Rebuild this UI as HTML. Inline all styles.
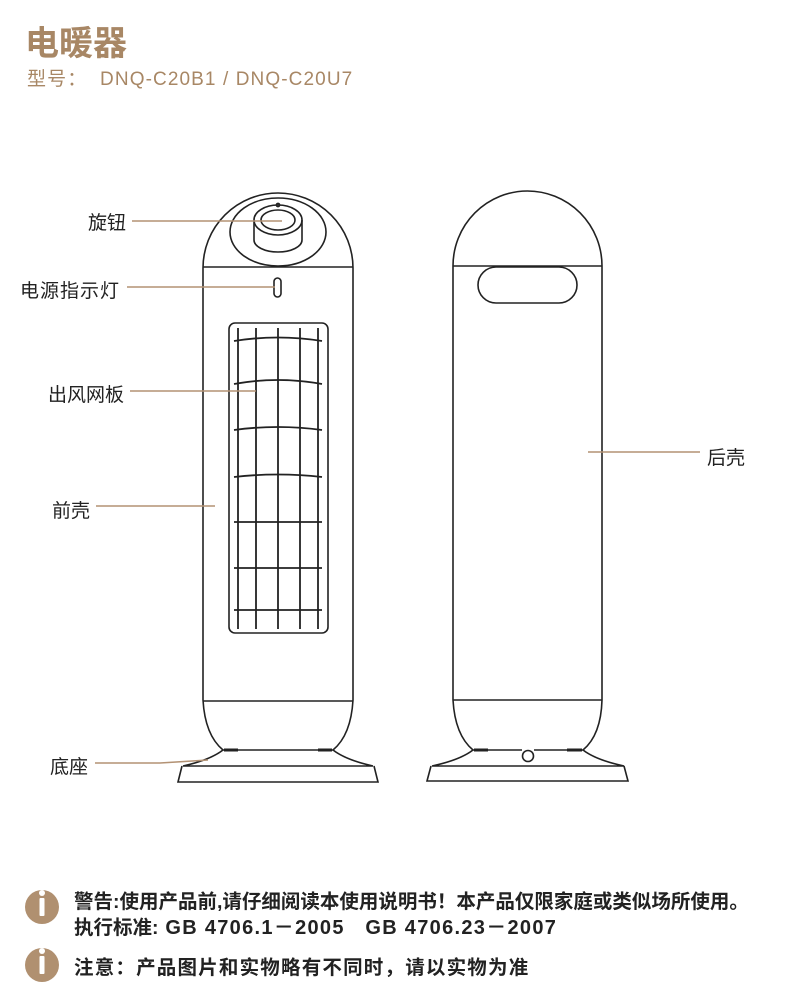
<!DOCTYPE html>
<html><head><meta charset="utf-8"><style>
body{margin:0;width:787px;height:984px;background:#fff;overflow:hidden;position:relative;font-family:"Liberation Sans","Noto Sans CJK SC",sans-serif}
.t{position:absolute;white-space:nowrap}
.l{font-size:19px;color:#222}
.f{font-size:19.5px;font-weight:bold;color:#222;left:74px}
</style></head><body>
<div class="t" style="left:25px;top:16px;font-size:34px;font-weight:bold;color:#a88765">电暖器</div>
<div class="t" style="left:27px;top:64px;font-size:19px;color:#a88765;letter-spacing:1.1px">型号：&nbsp; DNQ-C20B1 / DNQ-C20U7</div>
<div class="t l" style="left:88px;top:208px">旋钮</div>
<div class="t l" style="left:20px;top:276px;letter-spacing:1px">电源指示灯</div>
<div class="t l" style="left:48px;top:380px">出风网板</div>
<div class="t l" style="left:52px;top:496px">前壳</div>
<div class="t l" style="left:50px;top:752px">底座</div>
<div class="t l" style="left:707px;top:443px">后壳</div>
<svg width="787" height="984" style="position:absolute;left:0;top:0">
<g fill="none" stroke="#222" stroke-width="1.6">
<path d="M203,700 L203,268 A75,75 0 0 1 353,268 L353,700"/>
<line x1="203" y1="267" x2="353" y2="267"/><line x1="203" y1="701" x2="353" y2="701"/>
<path d="M203,700 Q205,735 223,750 L333,750 Q351,735 353,700"/>
<path d="M223,750 Q210,760 183,766 L373,766 Q346,760 333,750"/>
<path d="M182,766 L178,782 L378,782 L374,766"/>
<line x1="224" y1="750" x2="238" y2="750" stroke-width="3"/><line x1="318" y1="750" x2="332" y2="750" stroke-width="3"/>
<ellipse cx="278" cy="232" rx="48" ry="34"/>
<path d="M254,220 L254,240 A24,12 0 0 0 302,240 L302,220"/>
<ellipse cx="278" cy="220" rx="24" ry="15"/>
<ellipse cx="278" cy="220" rx="17" ry="10"/>
<circle cx="278" cy="205" r="1.6"/>
<rect x="274" y="278" width="7" height="19" rx="3.5"/>
<rect x="229" y="323" width="99" height="310" rx="6"/>
<g stroke-width="1.8">
<line x1="238" y1="328" x2="238" y2="629"/><line x1="256" y1="328" x2="256" y2="629"/><line x1="278" y1="328" x2="278" y2="629"/><line x1="300" y1="328" x2="300" y2="629"/><line x1="318" y1="328" x2="318" y2="629"/>
<path d="M234,341 Q278,334 322,341"/><path d="M234,384 Q278,376 322,384"/><path d="M234,430 Q278,424 322,430"/><path d="M234,477 Q278,472 322,477"/>
<line x1="234" y1="522" x2="322" y2="522"/><line x1="234" y1="568" x2="322" y2="568"/><line x1="234" y1="610" x2="322" y2="610"/>
</g>
<path d="M453,700 L453,266 A74.5,75 0 0 1 602,266 L602,700"/>
<line x1="453" y1="266" x2="602" y2="266"/><line x1="453" y1="700" x2="602" y2="700"/>
<rect x="478" y="267" width="99" height="36" rx="18"/>
<path d="M453,700 Q455,735 473,750 L522,750 M534,750 L583,750 Q601,735 602,700"/>
<circle cx="528" cy="756" r="5.5"/>
<path d="M473,750 Q460,760 432,766 L624,766 Q596,760 583,750"/>
<path d="M431,766 L427,781 L628,781 L624,766"/>
<line x1="474" y1="750" x2="488" y2="750" stroke-width="3"/><line x1="567" y1="750" x2="582" y2="750" stroke-width="3"/>
</g>
<g stroke="#b39274" stroke-width="1.6">
<line x1="132" y1="221" x2="282" y2="221"/>
<line x1="127" y1="287" x2="275" y2="287"/>
<line x1="130" y1="391" x2="256" y2="391"/>
<line x1="96" y1="506" x2="215" y2="506"/>
<path d="M95,763 L160,763 L208,760" fill="none"/>
<line x1="588" y1="452" x2="700" y2="452"/>
</g>
<g fill="#b09070"><circle cx="42" cy="907" r="17"/><circle cx="42" cy="965" r="17"/></g>
<g fill="#fff"><rect x="39.5" y="898" width="5" height="18" rx="1"/><circle cx="42" cy="893" r="3"/><rect x="39.5" y="956" width="5" height="18" rx="1"/><circle cx="42" cy="951" r="3"/></g>
</svg>
<div class="t f" style="top:885px">警告:使用产品前,请仔细阅读本使用说明书！本产品仅限家庭或类似场所使用。</div>
<div class="t f" style="top:911px">执行标准:<span style="font-size:20px;letter-spacing:1.3px"> GB 4706.1－2005&nbsp;&nbsp; GB 4706.23－2007</span></div>
<div class="t f" style="top:951px;letter-spacing:1.2px">注意：产品图片和实物略有不同时，请以实物为准</div>
</body></html>
